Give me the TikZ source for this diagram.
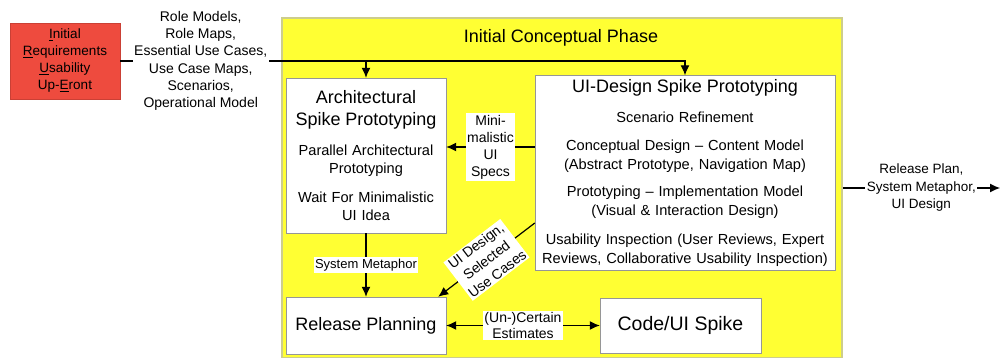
\documentclass[tikz,border=0pt]{standalone}
\usepackage{fontspec}
\setmainfont{Liberation Sans}
\usetikzlibrary{arrows.meta}
\definecolor{reqred}{RGB}{238,75,62}
\definecolor{phaseyellow}{RGB}{255,255,51}
\definecolor{phaseedge}{RGB}{205,205,140}
\definecolor{boxedge}{RGB}{150,150,150}
\tikzstyle{flow} = [line width=1.2pt, >={Latex[length=10pt,width=9pt]}, ->]
\tikzstyle{box} = [draw=boxedge, fill=white, align=center, inner sep=4pt]
\tikzstyle{tag} = [fill=white, inner sep=1.5pt, align=center]
\newcommand{\headfont}{\fontsize{18}{22}\selectfont}
\newcommand{\bodyfont}[1]{\fontsize{14.6}{#1}\selectfont}
\newcommand{\tagfont}[1]{\fontsize{14}{#1}\selectfont}

\begin{document}
\begin{tikzpicture}[x=1pt,y=-1pt]
\useasboundingbox (0,0) rectangle (1001,358);
%phase and boxes
\node[draw=phaseedge, line width=1.5pt, fill=phaseyellow, minimum width=560pt, minimum height=340pt] (phase) at (562,188) {};
\node[font=\headfont] (phasetitle) at (561,38) {Initial Conceptual Phase};
\node[draw=reqred!85!black, fill=reqred, align=center, minimum width=110pt, minimum height=76pt, font=\fontsize{13.5}{17}\selectfont] (req) at (65,61)
  {\underline{I}nitial\\\underline{R}equirements\\\underline{U}sability\\Up-\underline{E}ront};
\node[box, text width=152pt, minimum height=155pt, font=\bodyfont{18}] (arch) at (366,155.5)
  {{\headfont Architectural\\[4pt]Spike Prototyping}\\[12pt]
   Parallel Architectural\\Prototyping\\[11pt]
   Wait For Minimalistic\\UI Idea};
\node[box, text width=292pt, minimum height=190pt, font=\bodyfont{19}] (ui) at (685,173)
  {{\headfont UI-Design Spike Prototyping}\\[11pt]
   Scenario Refinement\\[9pt]
   Conceptual Design -- Content Model\\(Abstract Prototype, Navigation Map)\\[8pt]
   Prototyping -- Implementation Model\\(Visual \& Interaction Design)\\[10pt]
   Usability Inspection (User Reviews, Expert\\Reviews, Collaborative Usability Inspection)};
\node[box, minimum width=160pt, minimum height=57pt, font=\fontsize{18}{22}\selectfont] (rp) at (366,325.5) {Release Planning};
\node[box, minimum width=161pt, minimum height=55pt, font=\fontsize{19.5}{22}\selectfont] (code) at (680.5,325.5) {Code/UI Spike};
%arrows
\coordinate (specsrow) at (490,147);
\coordinate (outend) at (1000,188);
\draw[flow] (req.east) -- node[tag, font=\tagfont{17.3}] (inputs)
  {Role Models,\\Role Maps,\\Essential Use Cases,\\Use Case Maps,\\Scenarios,\\Operational Model} (req.east -| phase.west) -| (ui.north);
\draw[flow] (req.east -| arch.north) -- (arch.north);
\draw[flow] (specsrow -| ui.west) -- node[tag, font=\tagfont{17}] (specs) {Mini-\\malistic\\UI\\Specs} (specsrow -| arch.east);
\draw[flow] (arch.south) -- node[tag, font=\fontsize{13}{16}\selectfont] (metaphor) {System Metaphor} (rp.north);
\draw[flow] ([yshift=-50pt]ui.west) -- node[tag, sloped, font=\tagfont{17.5}] (selected) {UI Design,\\Selected\\Use Cases} ([xshift=-8pt]rp.north east);
\draw[flow, <->] (rp.east) -- node[tag, font=\tagfont{16}] (estimates) {(Un-)Certain\\Estimates} (code.west);
\draw[flow] (phase.east) -- node[tag, font=\fontsize{13.5}{17.5}\selectfont] (outputs) {Release Plan,\\System Metaphor,\\UI Design} (outend);
\end{tikzpicture}
\end{document}
